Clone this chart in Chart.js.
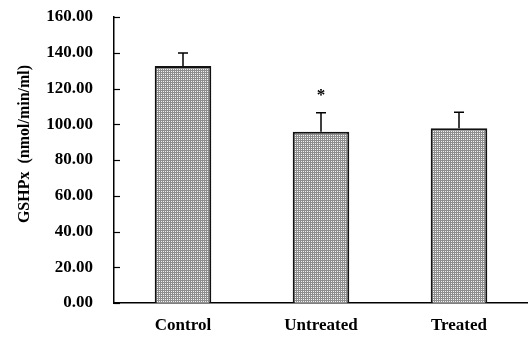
<!DOCTYPE html>
<html>
<head>
<meta charset="utf-8">
<script src="https://cdn.jsdelivr.net/npm/chart.js@4"></script>
<style>
  html, body { margin: 0; padding: 0; background: #fff; }
  #chart { display: block; }
</style>
</head>
<body>
<canvas id="chart" width="528" height="338"></canvas>
<script>
// data
const groups = ['Control', 'Untreated', 'Treated']
const gshpx = [132.6, 95.8, 97.7]
const errUp = [7.3, 10.7, 9.0]
const sigMarks = ['', '*', '']
const sigLevel = 117.5
const yTicks = [0, 20, 40, 60, 80, 100, 120, 140, 160]
const yTitle = 'GSHPx  (nmol/min/ml)'

const FONT = '"Liberation Serif", "Times New Roman", serif'

// grey grid with white holes, like the scanned bar fill
function makeHatch() {
  const c = document.createElement('canvas')
  c.width = 2
  c.height = 2
  const g = c.getContext('2d')
  g.fillStyle = '#8e8e8e'
  g.fillRect(0, 0, 2, 2)
  g.fillStyle = '#f2f2f2'
  g.fillRect(1, 1, 1, 1)
  return g.createPattern(c, 'repeat')
}

const extras = {
  id: 'extras',
  afterDatasetsDraw(chart) {
    const ctx = chart.ctx
    const x = chart.scales.x
    const y = chart.scales.y
    ctx.save()
    // error bars (upper only)
    ctx.strokeStyle = '#000'
    ctx.lineWidth = 1.5
    gshpx.forEach((v, i) => {
      const px = x.getPixelForValue(i)
      const top = y.getPixelForValue(v + errUp[i])
      const base = y.getPixelForValue(v)
      ctx.beginPath()
      ctx.moveTo(px, base)
      ctx.lineTo(px, top)
      ctx.moveTo(px - 5, top)
      ctx.lineTo(px + 5, top)
      ctx.stroke()
    })
    // significance marks
    ctx.fillStyle = '#000'
    ctx.font = 'bold 17px ' + FONT
    ctx.textAlign = 'center'
    ctx.textBaseline = 'middle'
    sigMarks.forEach((m, i) => {
      if (m) ctx.fillText(m, x.getPixelForValue(i), y.getPixelForValue(sigLevel) + 3)
    })
    // inward y ticks
    ctx.lineWidth = 1.2
    yTicks.forEach((t) => {
      const py = Math.round(y.getPixelForValue(t)) + 0.5
      ctx.beginPath()
      ctx.moveTo(y.right, py)
      ctx.lineTo(y.right + 6, py)
      ctx.stroke()
    })
    // y axis title
    ctx.translate(25, 144)
    ctx.rotate(-Math.PI / 2)
    ctx.font = 'bold 16px ' + FONT
    ctx.fillText(yTitle, 0, 0)
    ctx.restore()
  }
}

new Chart(document.getElementById('chart'), {
  type: 'bar',
  data: {
    labels: groups,
    datasets: [{
      label: 'GSHPx',
      data: gshpx,
      backgroundColor: makeHatch(),
      borderColor: '#111',
      borderWidth: 2,
      borderSkipped: 'bottom',
      categoryPercentage: 1,
      barPercentage: 0.41
    }]
  },
  options: {
    responsive: false,
    animation: false,
    events: [],
    layout: { padding: { top: 17, right: 0, left: 0, bottom: 0 } },
    plugins: { legend: { display: false }, tooltip: { enabled: false } },
    scales: {
      x: {
        grid: { display: false, drawTicks: false },
        border: { color: '#000', width: 1.5 },
        ticks: {
          color: '#000',
          padding: 12,
          font: { family: FONT, size: 17, weight: 'bold' }
        },
        afterFit: (s) => { s.height = 35 }
      },
      y: {
        min: 0,
        max: 160,
        afterBuildTicks: (s) => { s.ticks = yTicks.map((v) => ({ value: v })) },
        grid: { display: false, drawTicks: false },
        border: { color: '#000', width: 1.5 },
        ticks: {
          color: '#000',
          padding: 21,
          font: { family: FONT, size: 17, weight: 'bold' },
          callback: (v) => Number(v).toFixed(2)
        },
        afterFit: (s) => {
          s.width = 114
          s.paddingTop = 0
          s.paddingBottom = 0
        }
      }
    }
  },
  plugins: [extras]
})
</script>
</body>
</html>
